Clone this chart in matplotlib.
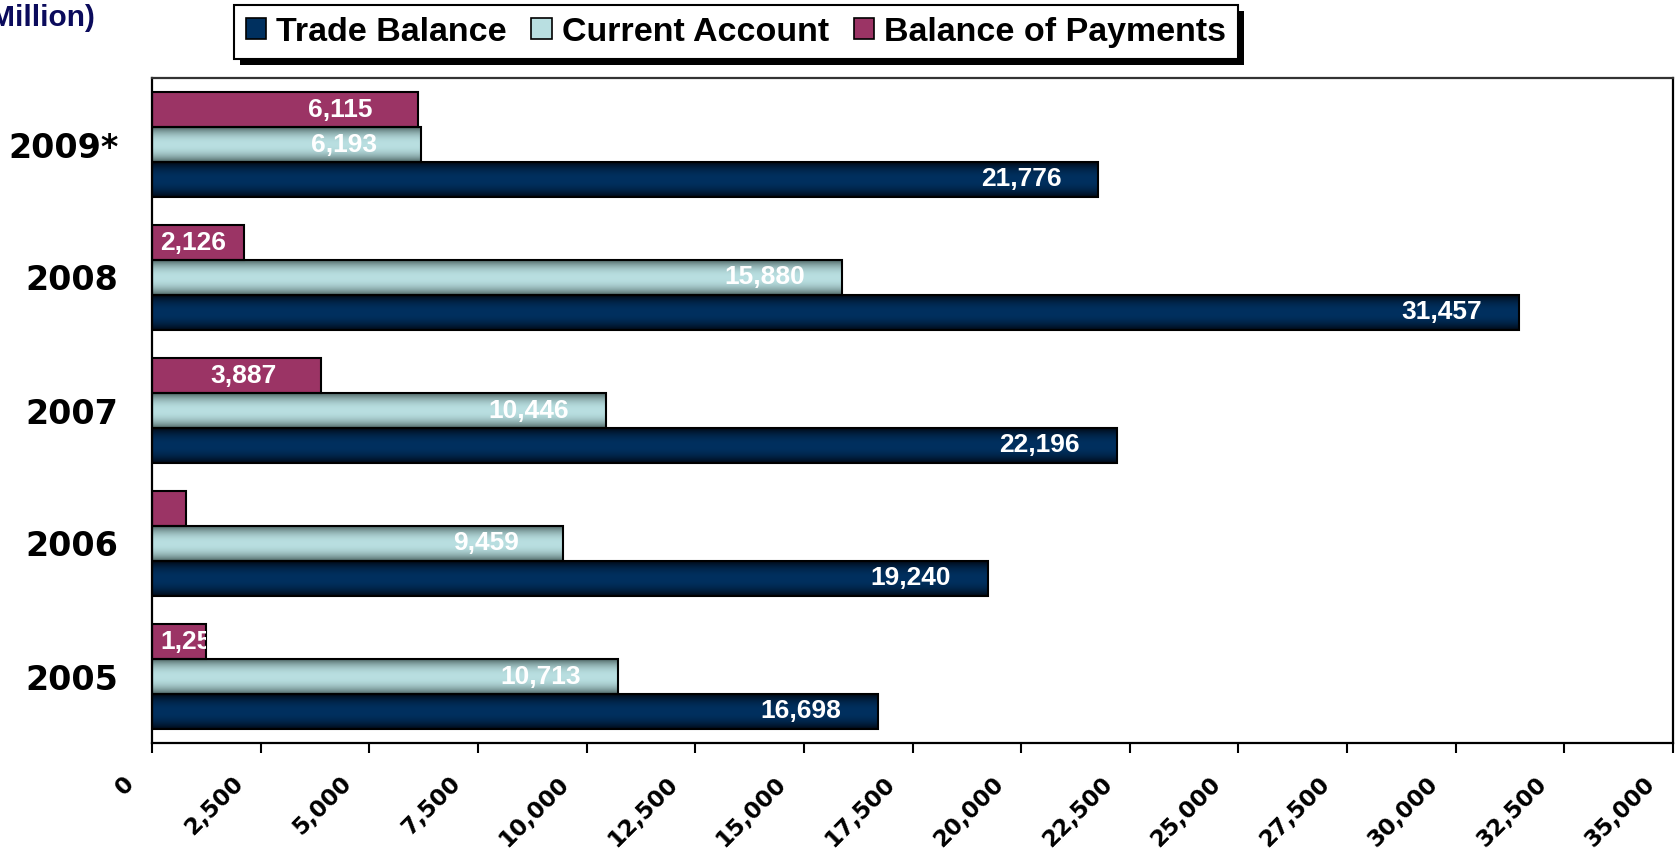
import numpy as np
import matplotlib
matplotlib.use('Agg')
import matplotlib.pyplot as plt
from matplotlib.colors import to_rgb
from matplotlib.patches import Patch, Rectangle
from matplotlib.transforms import Bbox, TransformedBbox, ScaledTranslation

# ---------------- data ----------------
years = ['2005', '2006', '2007', '2008', '2009*']
trade_balance = [16698, 19240, 22196, 31457, 21776]
current_account = [10713, 9459, 10446, 15880, 6193]
balance_of_payments = [1254, 782, 3887, 2126, 6115]
tb_labels = ['16,698', '19,240', '22,196', '31,457', '21,776']
ca_labels = ['10,713', '9,459', '10,446', '15,880', '6,193']
bop_labels = ['1,254', '', '3,887', '2,126', '6,115']
series_names = ['Trade Balance', 'Current Account', 'Balance of Payments']
x_ticks = list(range(0, 35001, 2500))
x_tick_labels = ['{:,}'.format(v) for v in x_ticks]
unit_text = '(US$ Million)'

# ---------------- styling ----------------
W, H, DPI = 1679, 857, 100
BOLD = dict(family=['Liberation Sans', 'DejaVu Sans'], weight='bold')
TB_EDGE, TB_CENTER = '#000814', '#00305f'
CA_EDGE, CA_CENTER = '#4d6564', '#b9dfe1'
BOP_COLOR = '#9b3465'

fig = plt.figure(figsize=(W / DPI, H / DPI), dpi=DPI)
ax = fig.add_axes([152 / W, 1 - 743 / H, (1673 - 152) / W, (743 - 78) / H])

y = np.arange(len(years))
h = 0.263

def gradient_fill(bar, edge, center, power):
    x0, y0 = bar.get_x(), bar.get_y()
    w, hh = bar.get_width(), bar.get_height()
    t = np.linspace(0, 1, 200)
    v = 1 - np.abs(2 * t - 1) ** power
    e = np.array(to_rgb(edge)); c = np.array(to_rgb(center))
    cols = e[None, :] * (1 - v[:, None]) + c[None, :] * v[:, None]
    img = np.repeat(cols[:, None, :], 2, axis=1)
    ax.imshow(img, extent=[x0, x0 + w, y0, y0 + hh], aspect='auto',
              origin='lower', interpolation='bilinear', zorder=2.5)

tb_bars = ax.barh(y - h, trade_balance, height=h, color=TB_CENTER, zorder=2)
ca_bars = ax.barh(y, current_account, height=h, color=CA_CENTER, zorder=2)
bop_bars = ax.barh(y + h, balance_of_payments, height=h, color=BOP_COLOR, zorder=2)
for b in tb_bars:
    gradient_fill(b, TB_EDGE, TB_CENTER, 2.2)
for b in ca_bars:
    gradient_fill(b, CA_EDGE, CA_CENTER, 2.2)
# outlines
for vals, off in [(trade_balance, -h), (current_account, 0), (balance_of_payments, h)]:
    ax.barh(y + off, vals, height=h, fill=False, edgecolor='black', linewidth=1.5, zorder=3)

ax.set_xlim(0, 35000)
ax.set_ylim(-0.5, len(years) - 0.5)

# data labels
lab_trans = ax.transData + ScaledTranslation(-77 / DPI, 0, fig.dpi_scale_trans)
left_trans = ax.transData + ScaledTranslation(8 / DPI, 0, fig.dpi_scale_trans)
px_per_unit = (1673 - 152) / 35000
for bars, labels in [(tb_bars, tb_labels), (ca_bars, ca_labels), (bop_bars, bop_labels)]:
    for b, lab in zip(bars, labels):
        if not lab:
            continue
        end = b.get_x() + b.get_width()
        yc = b.get_y() + b.get_height() / 2
        if b.get_width() * px_per_unit < 125:
            t = ax.text(0, yc, lab, transform=left_trans, ha='left', va='center',
                        color='white', fontsize=19, zorder=5, **BOLD)
        else:
            t = ax.text(end, yc, lab, transform=lab_trans, ha='center', va='center',
                        color='white', fontsize=19, zorder=5, **BOLD)
        t.set_clip_box(TransformedBbox(Bbox.from_bounds(b.get_x(), b.get_y(),
                                                        b.get_width(), b.get_height()),
                                       ax.transData))
        t.set_clip_on(True)

# axes styling
for s in ax.spines.values():
    s.set_color('black'); s.set_linewidth(1.6)
ax.spines['top'].set_color('#333333')
ax.set_xticks(x_ticks)
ax.set_xticklabels(x_tick_labels, rotation=45, ha='right', va='top', fontsize=16.5,
                   family='DejaVu Sans', weight='bold')
ax.tick_params(axis='x', direction='out', length=7, width=1.5, pad=14)
shift = ScaledTranslation(-13 / DPI, 0, fig.dpi_scale_trans)
for lbl in ax.get_xticklabels():
    lbl.set_transform(lbl.get_transform() + shift)
ax.set_yticks(y)
ax.set_yticklabels(years, fontsize=24, family='DejaVu Sans', weight='bold')
ax.tick_params(axis='y', length=0, pad=24)

fig.text(95 / W, 1 - 18 / H, unit_text, ha='right', va='center', color='#0b0b5c',
         fontsize=21.5, **BOLD)

handles = [Patch(facecolor=TB_CENTER, edgecolor='black', linewidth=1.2),
           Patch(facecolor=CA_CENTER, edgecolor='black', linewidth=1.2),
           Patch(facecolor=BOP_COLOR, edgecolor='black', linewidth=1.2)]
leg = fig.legend(handles, series_names, ncol=3, loc='upper left',
                 bbox_to_anchor=(234 / W, 1 - 5 / H), borderaxespad=0,
                 prop=dict(family=['Liberation Sans', 'DejaVu Sans'], weight='bold', size=24.5),
                 handlelength=0.6, handleheight=0.6, handletextpad=0.3,
                 columnspacing=0.72, borderpad=0.34, fancybox=False, frameon=True,
                 framealpha=1.0)
leg.get_frame().set_edgecolor('black')
leg.get_frame().set_facecolor('white')
leg.get_frame().set_linewidth(1.5)
leg.set_zorder(10)

fig.canvas.draw()
bb = leg.get_window_extent()
shadow = Rectangle((bb.x0 + 6, bb.y0 - 6), bb.width, bb.height, transform=None,
                   facecolor='black', edgecolor='none', zorder=9)
fig.add_artist(shadow)

fig.savefig('out.png', dpi=DPI)
